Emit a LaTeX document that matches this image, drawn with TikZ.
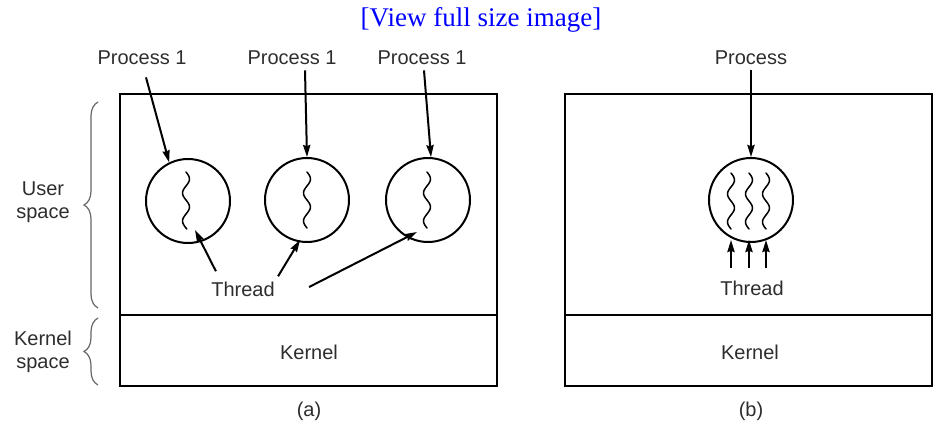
\documentclass[tikz,border=0pt]{standalone}
\usepackage{fontspec}
\setmainfont{Liberation Sans}
\newfontfamily\titlefont{Liberation Serif}
\usetikzlibrary{arrows.meta,calc,decorations.pathreplacing}

\definecolor{labelgray}{RGB}{45,45,45}
\definecolor{linkblue}{RGB}{0,0,255}
\tikzset{
  proc/.style={draw,circle,line width=1pt,minimum size=42pt,inner sep=0pt},
  lbl/.style={text=labelgray,font=\fontsize{10}{11.5}\selectfont,inner sep=1pt},
  arr/.style={line width=1pt,-{Stealth[length=6pt,width=3.6pt,inset=0.6pt]}},
  wave/.style={line width=0.75pt,line cap=round},
  spacebrace/.style={draw=black!60,line width=0.6pt,decorate,decoration={brace,amplitude=7pt}}
}
\newcommand{\threadwave}[3]{\draw[wave] plot[variable=\t,domain=0:#3,samples=40,smooth] ({#1+3.5*sin(12.86*\t)},{#2+\t});}

\begin{document}
\begin{tikzpicture}[x=0.5pt,y=-0.5pt]
  \useasboundingbox (0,0) rectangle (934,425);
  \node[text=linkblue,font=\titlefont\fontsize{13.5}{16}\selectfont] (title) at (481,20) {[View full size image]};

  % (a) one thread per process
  \draw[line width=1pt] (120,94) rectangle (497,386) (120,315) -- (497,315);
  \draw[spacebrace] (98,308) -- (98,102);
  \draw[spacebrace] (98,385) -- (98,318);
  \node[lbl,align=center] (us) at (43,202) {User\\space};
  \node[lbl,align=center] (ks) at (43,352) {Kernel\\space};

  \node[lbl] (pl1) at (142,58) {Process 1};
  \node[lbl] (pl2) at (292,58) {Process 1};
  \node[lbl] (pl3) at (422,58) {Process 1};
  \node[proc] (p1) at (188,201) {};
  \node[proc] (p2) at (307,200) {};
  \node[proc] (p3) at (428,200) {};
  \draw[arr] ($(pl1.south)+(4,10)$) -- (p1.116);
  \draw[arr] ($(pl2.south)+(13,3)$) -- (p2.north);
  \draw[arr] ($(pl3.south)+(2,3)$) -- (p3.86);

  \threadwave{186}{172}{57}
  \threadwave{307}{172}{56}
  \threadwave{427}{172}{56}

  \node[lbl] (ta) at (243,289) {Thread};
  \coordinate (t1) at (195,230);
  \coordinate (t2) at (300,240);
  \coordinate (t3) at (417,232);
  \draw[arr] ($(ta.north west)+(7,-8)$) -- (t1);
  \draw[arr] ($(ta.north east)+(1,-3)$) -- (t2);
  \draw[arr] ($(ta.east)+(32,-2)$) -- (t3);

  \node[lbl] (ka) at (309,352) {Kernel};
  \node[lbl] (ca) at (309,411) {(a)};

  % (b) three threads in one process
  \draw[line width=1pt] (565,94) rectangle (932,386) (565,315) -- (932,315);
  \node[lbl] (plb) at (751,58) {Process};
  \node[proc] (pb) at (751,200) {};
  \draw[arr] ($(plb.south)+(0,3)$) -- (pb.north);

  \node[lbl] (tb) at (752,288) {Thread};
  \foreach \x [count=\i] in {731,749,766} {
    \threadwave{\x}{173}{56}
    \coordinate (tb\i) at (\x,240);
    \draw[arr] ($(tb.north)+({\x-752},-10)$) -- (tb\i);
  }

  \node[lbl] (kb) at (750,352) {Kernel};
  \node[lbl] (cb) at (751,411) {(b)};
\end{tikzpicture}
\end{document}
